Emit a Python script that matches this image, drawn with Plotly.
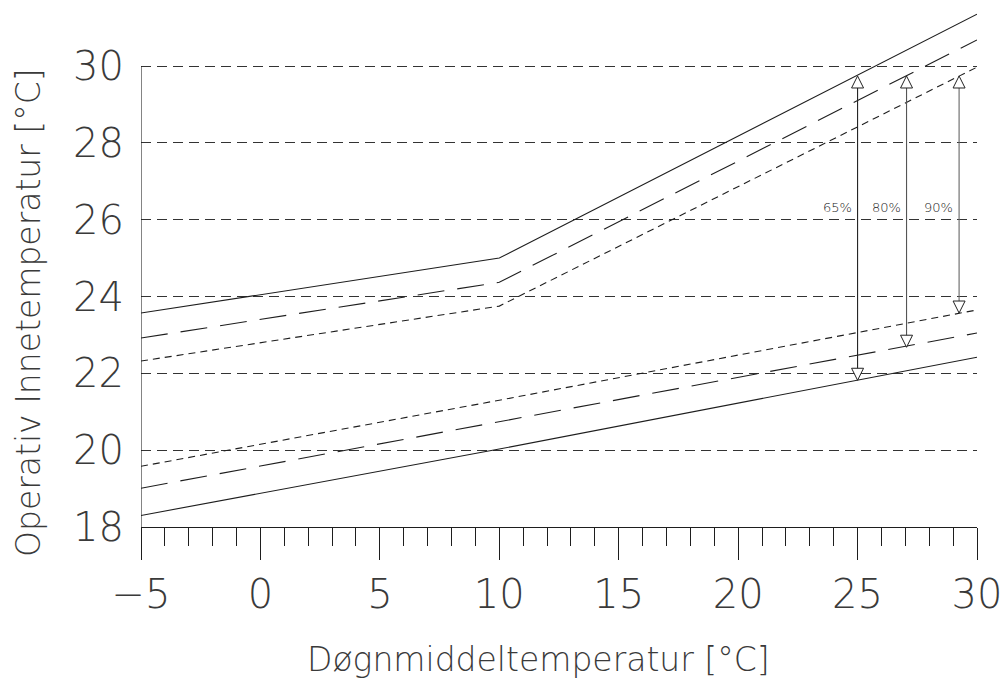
import plotly.graph_objects as go

# ---- data ----
x_pts = [-5, 10, 30]
upper_65 = [23.57, 25.0, 31.35]
lower_65 = [18.3, 20.03, 22.42]
upper_80 = [22.92, 24.37, 30.68]
lower_80 = [19.01, 20.74, 23.05]
upper_90 = [22.32, 23.75, 29.97]
lower_90 = [19.58, 21.3, 23.65]

arrow_labels = ["65%", "80%", "90%"]
arrow_x = [25.0, 27.05, 29.25]
arrow_top = [29.74, 29.74, 29.74]
arrow_bottom = [21.82, 22.68, 23.57]
label_y = [26.32, 26.32, 26.32]

x_ticks = [-5, 0, 5, 10, 15, 20, 25, 30]
y_ticks = [18, 20, 22, 24, 26, 28, 30]
x_title = "Døgnmiddeltemperatur [°C]"
y_title = "Operativ Innetemperatur [°C]"

FONT = "DejaVu Sans ExtraLight, DejaVu Sans"
TXT = "#3a3a3a"
LINE = "#1e1e1e"

fig = go.Figure()

series = [
    (upper_65, "solid"), (lower_65, "solid"),
    (upper_80, "27px,13px"), (lower_80, "27px,13px"),
    (upper_90, "7px,5px"), (lower_90, "7px,5px"),
]
for ys, dash in series:
    fig.add_trace(go.Scatter(x=x_pts, y=ys, mode="lines",
                             line=dict(color=LINE, width=1.1, dash=dash),
                             showlegend=False, hoverinfo="skip"))

arrow_colors = ["#222", "#555", "#666"]
for i in range(len(arrow_x)):
    fig.add_trace(go.Scatter(
        x=[arrow_x[i], arrow_x[i]], y=[arrow_bottom[i], arrow_top[i]],
        mode="lines+markers",
        line=dict(color=arrow_colors[i], width=1.1),
        marker=dict(symbol=["arrow-down", "arrow-up"], size=12, color="white",
                    line=dict(color="#222", width=1)),
        showlegend=False, hoverinfo="skip"))
    fig.add_annotation(x=arrow_x[i], y=label_y[i], text=arrow_labels[i],
                       showarrow=False, xanchor="right", yanchor="middle",
                       xshift=-4, font=dict(family=FONT, size=13, color="#222",
                                            weight=200))

# left axis line only spanning the labelled range
fig.add_shape(type="line", xref="x", yref="y", x0=x_ticks[0], x1=x_ticks[0],
              y0=y_ticks[0], y1=y_ticks[-1], line=dict(color=LINE, width=1.1))

fig.add_annotation(xref="paper", yref="paper", x=(538 - 141) / 836, y=-(659 - 527) / 517,
                   text=x_title, showarrow=False, xanchor="center", yanchor="middle",
                   font=dict(family=FONT, size=33, color=TXT, weight=200))
fig.add_annotation(xref="paper", yref="paper", x=-(141 - 28) / 836, y=(527 - 313) / 517,
                   text=y_title, showarrow=False, xanchor="center", yanchor="middle",
                   textangle=-90,
                   font=dict(family=FONT, size=33, color=TXT, weight=200))

fig.update_layout(
    width=1004, height=678,
    margin=dict(l=141, r=27, t=10, b=151, autoexpand=False),
    paper_bgcolor="white", plot_bgcolor="white",
    xaxis=dict(range=[-5, 30], tickvals=x_ticks, showgrid=False, zeroline=False,
               automargin=False,
               showline=True, linecolor=LINE, linewidth=1.1,
               ticks="outside", ticklen=32, tickwidth=1, tickcolor=LINE,
               minor=dict(ticks="outside", ticklen=18, tickwidth=1, tickcolor=LINE,
                          dtick=1, tick0=-5, showgrid=False),
               ticklabelstandoff=0, ticklabeloverflow="allow",
               tickfont=dict(family=FONT, size=40, color=TXT, weight=200)),
    yaxis=dict(range=[18, 30 + 56 / (461 / 12)], tickvals=y_ticks, zeroline=False,
               automargin=False,
               showgrid=True, gridcolor="#333", gridwidth=1, griddash="10px,6px",
               showline=False, ticks="", ticklabelstandoff=16,
               tickfont=dict(family=FONT, size=40, color=TXT, weight=200)),
)

fig.write_html("out.html", config={"displayModeBar": False},
               post_script="document.body.style.margin='0';")
